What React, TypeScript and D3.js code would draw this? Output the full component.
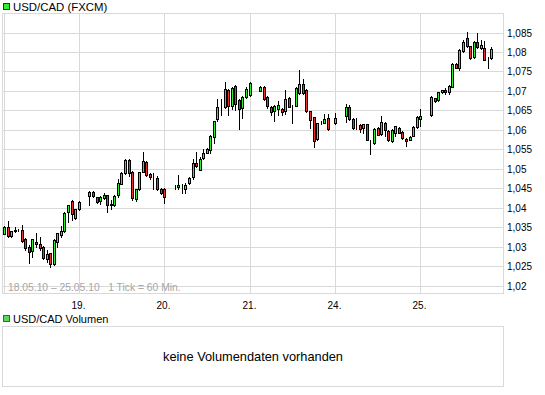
import * as d3 from "d3";

// hourly candles, USD/CAD (FXCM), 18.05.10 - 25.05.10
// slot = hour index on the compressed trading axis (gaps = missing hours)
const slots = [
  0, 1, 2, 3, 4, 5, 6, 7, 8, 9, 10, 11, 12, 13, 14, 15, 16, 17, 18, 19, 20, 21,
  24, 25, 26, 27, 28, 29, 30, 31, 32, 33, 34, 35, 36, 37, 38, 39, 40, 41, 42, 43, 44, 45,
  48, 49, 50, 51, 52, 53, 54, 55, 56, 57, 58, 59, 60, 61, 62, 63, 64, 65, 66, 67, 68, 69,
  72, 73, 74, 75, 76, 77, 78, 79, 80, 81, 82, 83, 84, 85, 86, 87, 88, 89, 90, 91,
  93,
  96, 97, 98, 99, 100, 101, 102, 103, 104, 105, 106, 107, 108, 109, 110, 111, 112, 113, 114, 115, 116, 117,
  120, 121, 122, 123, 124, 125, 126, 127, 128, 129, 130, 131, 132, 133, 134, 135, 136, 137,
];

const opens = [
  1.0335, 1.0352, 1.0326, 1.034, 1.0342, 1.0343, 1.0319, 1.03, 1.0287, 1.0312, 1.0306, 1.0299, 1.027, 1.0283, 1.0256, 1.0312, 1.0331, 1.0341, 1.0388, 1.0418, 1.0374, 1.0396,
  1.0432, 1.0441, 1.0427, 1.0418, 1.0427, 1.0432, 1.041, 1.0407, 1.0431, 1.0461, 1.049, 1.0523, 1.0492, 1.0422, 1.0448, 1.0493, 1.0518, 1.0486, 1.0478, 1.0477, 1.0448, 1.0448,
  1.0454, 1.0453, 1.0451, 1.0448, 1.0463, 1.0477, 1.0514, 1.0499, 1.0528, 1.0542, 1.0549, 1.0581, 1.0626, 1.066, 1.0658, 1.0703, 1.0662, 1.0713, 1.0677, 1.0656, 1.0684, 1.0689,
  1.0701, 1.0711, 1.0684, 1.066, 1.0649, 1.0655, 1.0653, 1.0649, 1.0682, 1.0662, 1.0663, 1.0694, 1.0718, 1.0703, 1.0648, 1.0633, 1.0576, 1.0619, 1.062, 1.0631,
  1.0617,
  1.0635, 1.0659, 1.0628, 1.0605, 1.0613, 1.0604, 1.0615, 1.0574, 1.0568, 1.0606, 1.0589, 1.0618, 1.0596, 1.0574, 1.0592, 1.0606, 1.0594, 1.0577, 1.0575, 1.0585, 1.0608, 1.063,
  1.0638, 1.0681, 1.0676, 1.0697, 1.0703, 1.0697, 1.0712, 1.0769, 1.0758, 1.0803, 1.0835, 1.0815, 1.0786, 1.0825, 1.081, 1.081, 1.0784, 1.0784,
];

const highs = [
  1.0353, 1.0367, 1.0341, 1.0352, 1.0347, 1.0355, 1.0323, 1.0304, 1.0321, 1.0335, 1.0324, 1.0302, 1.0292, 1.0285, 1.0319, 1.0336, 1.0353, 1.0389, 1.0408, 1.042, 1.0398, 1.0417,
  1.0443, 1.0443, 1.0429, 1.0431, 1.0437, 1.0434, 1.042, 1.0432, 1.0475, 1.0492, 1.0525, 1.0526, 1.0494, 1.0449, 1.0493, 1.0543, 1.0521, 1.0489, 1.0489, 1.0482, 1.045, 1.045,
  1.0458, 1.0485, 1.0461, 1.0465, 1.0478, 1.0525, 1.0543, 1.0531, 1.055, 1.0554, 1.0586, 1.0624, 1.0679, 1.0679, 1.0723, 1.0704, 1.071, 1.0715, 1.0679, 1.0687, 1.0711, 1.0723,
  1.0713, 1.0713, 1.0686, 1.0662, 1.0665, 1.0675, 1.0655, 1.0703, 1.0684, 1.0665, 1.071, 1.0754, 1.073, 1.0704, 1.0649, 1.0634, 1.0619, 1.0622, 1.0641, 1.0641,
  1.0644,
  1.0666, 1.0664, 1.063, 1.063, 1.0615, 1.0616, 1.0616, 1.0575, 1.0604, 1.0608, 1.0637, 1.062, 1.0599, 1.0603, 1.0611, 1.0608, 1.0596, 1.058, 1.0585, 1.0609, 1.0635, 1.0654,
  1.0688, 1.0683, 1.0698, 1.0703, 1.0707, 1.0714, 1.0772, 1.0772, 1.0808, 1.0832, 1.0851, 1.0816, 1.0827, 1.0849, 1.0832, 1.0828, 1.0787, 1.0813,
];

const lows = [
  1.0333, 1.0326, 1.0324, 1.0338, 1.034, 1.0312, 1.0292, 1.0259, 1.0275, 1.03, 1.0292, 1.0268, 1.0261, 1.0247, 1.0253, 1.0299, 1.0325, 1.0338, 1.0364, 1.0369, 1.0372, 1.0395,
  1.0407, 1.0429, 1.0412, 1.041, 1.0424, 1.0389, 1.0398, 1.0405, 1.0429, 1.046, 1.0487, 1.0481, 1.042, 1.0418, 1.0447, 1.0492, 1.0482, 1.0475, 1.0448, 1.0446, 1.0436, 1.0413,
  1.0449, 1.0449, 1.0437, 1.0437, 1.0461, 1.0475, 1.0504, 1.0497, 1.0525, 1.054, 1.054, 1.0566, 1.0624, 1.0638, 1.0656, 1.0638, 1.0653, 1.0651, 1.0603, 1.0631, 1.0682, 1.0687,
  1.07, 1.0677, 1.0656, 1.0638, 1.0624, 1.0638, 1.0639, 1.0641, 1.0658, 1.0619, 1.0662, 1.0692, 1.0692, 1.0646, 1.0605, 1.0557, 1.0574, 1.0614, 1.0619, 1.06,
  1.0615,
  1.062, 1.0626, 1.0603, 1.0603, 1.0594, 1.0592, 1.0574, 1.0539, 1.0565, 1.0587, 1.0587, 1.0584, 1.0572, 1.057, 1.0584, 1.0592, 1.0577, 1.0558, 1.0574, 1.0584, 1.0606, 1.0609,
  1.0637, 1.0671, 1.0674, 1.0695, 1.0693, 1.0693, 1.071, 1.0758, 1.0755, 1.0801, 1.0813, 1.0782, 1.0784, 1.081, 1.0808, 1.0779, 1.076, 1.0782,
];

const closes = [
  1.0352, 1.0328, 1.034, 1.0343, 1.0343, 1.0314, 1.0295, 1.0287, 1.0319, 1.0306, 1.0295, 1.027, 1.0282, 1.0256, 1.0318, 1.0335, 1.0341, 1.0388, 1.0407, 1.0384, 1.0396, 1.0415,
  1.0441, 1.0432, 1.0415, 1.0429, 1.0434, 1.0407, 1.0407, 1.0431, 1.0463, 1.049, 1.0523, 1.049, 1.0425, 1.0448, 1.0491, 1.0521, 1.0484, 1.0478, 1.0479, 1.0448, 1.0439, 1.0427,
  1.0455, 1.0458, 1.0451, 1.0458, 1.0477, 1.0514, 1.0506, 1.0526, 1.0542, 1.0552, 1.0585, 1.0622, 1.0658, 1.0659, 1.0704, 1.0663, 1.0708, 1.0668, 1.0655, 1.0684, 1.0704, 1.0721,
  1.0711, 1.0679, 1.066, 1.0646, 1.0662, 1.0665, 1.0646, 1.0679, 1.066, 1.0661, 1.0708, 1.0718, 1.0694, 1.0648, 1.0626, 1.0571, 1.0617, 1.062, 1.0629, 1.0602,
  1.0631,
  1.0659, 1.0628, 1.0604, 1.0606, 1.0604, 1.0615, 1.0575, 1.0573, 1.0603, 1.0589, 1.062, 1.0599, 1.0574, 1.0601, 1.0609, 1.0594, 1.0579, 1.0572, 1.0582, 1.0608, 1.0633, 1.0637,
  1.0685, 1.0674, 1.0697, 1.0702, 1.0697, 1.0712, 1.077, 1.076, 1.0805, 1.0825, 1.0815, 1.0784, 1.0825, 1.0811, 1.0818, 1.078, 1.0783, 1.0808,
];

const yTicks = [1.02, 1.025, 1.03, 1.035, 1.04, 1.045, 1.05, 1.055, 1.06, 1.065, 1.07, 1.075, 1.08, 1.085];
const daySlots = [21, 45, 69, 93, 117];
const dayLabels = ["19.", "20.", "21.", "24.", "25."];

const FONT = "'Liberation Sans', Arial, Helvetica, sans-serif";
const GRID = "#d9d9d9";
const UP = "#2ff02f";
const DOWN = "#ec2f2f";

export default function App() {
  const width = 545,
    height = 395;
  const left = 3,
    right = 503,
    top = 13,
    bottom = 293;

  const x = d3.scaleLinear().domain([0, 140]).range([4, 4 + 140 * 3.558]);
  const y = d3.scaleLinear().domain([1.02, 1.085]).range([285.8, 32.5]);

  const fmt = (v: number) => d3.format(".3~f")(v).replace(".", ",");
  const px = (v: number) => Math.round(v) + 0.5;

  const candles = slots.map((s, i) => ({
    s,
    o: opens[i],
    h: highs[i],
    l: lows[i],
    c: closes[i],
  }));

  return (
    <svg
      width={width}
      height={height}
      style={{ position: "absolute", left: 0, top: 0, background: "#fff" }}
      fontFamily={FONT}
    >
      {/* price legend */}
      <rect x={3.5} y={3.5} width={6} height={6} fill={UP} stroke="#333" />
      <text x={13} y={10.5} fontSize={11.4} fill="#000">
        USD/CAD (FXCM)
      </text>

      {/* grid */}
      <g stroke={GRID} strokeWidth={1}>
        {yTicks.map((t) => (
          <line key={t} x1={left} x2={right} y1={px(y(t))} y2={px(y(t))} />
        ))}
        {daySlots.map((s) => (
          <line key={s} x1={px(x(s))} x2={px(x(s))} y1={top} y2={bottom} />
        ))}
        <line x1={4.5} x2={4.5} y1={top} y2={bottom} />
        <rect x={left - 0.5} y={top + 0.5} width={right - left + 1} height={bottom - top} fill="none" />
      </g>

      {/* y labels */}
      {yTicks.map((t) => (
        <text key={t} x={507} y={px(y(t)) + 3.5} fontSize={10} fill="#000">
          {fmt(t)}
        </text>
      ))}

      {/* x labels */}
      {daySlots.map((s, i) => (
        <text key={s} x={px(x(s)) - 1} y={309} fontSize={10} fill="#000" textAnchor="middle">
          {dayLabels[i]}
        </text>
      ))}

      <text x={8} y={290.5} fontSize={10.3} fill="#a6a6a6" xmlSpace="preserve">
        {"18.05.10 – 25.05.10   1 Tick = 60 Min."}
      </text>

      {/* candles */}
      <g>
        {candles.map((d) => {
          const cx = px(x(d.s));
          const yo = y(d.o),
            yc = y(d.c);
          const top = Math.round(Math.min(yo, yc)) + 0.5;
          const h = Math.max(Math.round(Math.abs(yo - yc)), 0);
          return (
            <g key={d.s}>
              <line x1={cx} x2={cx} y1={Math.round(y(d.h))} y2={Math.round(y(d.l)) + 1} stroke="#000" />
              <rect
                x={cx - 1}
                y={top}
                width={2}
                height={h}
                fill={d.c >= d.o ? UP : DOWN}
                stroke="#000"
              />
            </g>
          );
        })}
      </g>

      {/* volume panel */}
      <rect x={3.5} y={315.5} width={6} height={6} fill="#5cd65c" stroke="#555" />
      <text x={13} y={322.5} fontSize={11} fill="#000">
        USD/CAD Volumen
      </text>
      <rect x={left - 0.5} y={326.5} width={right - left + 1} height={60} fill="none" stroke={GRID} />
      <text x={(left + right) / 2} y={360.5} fontSize={12.8} fill="#000" textAnchor="middle">
        keine Volumendaten vorhanden
      </text>
    </svg>
  );
}
